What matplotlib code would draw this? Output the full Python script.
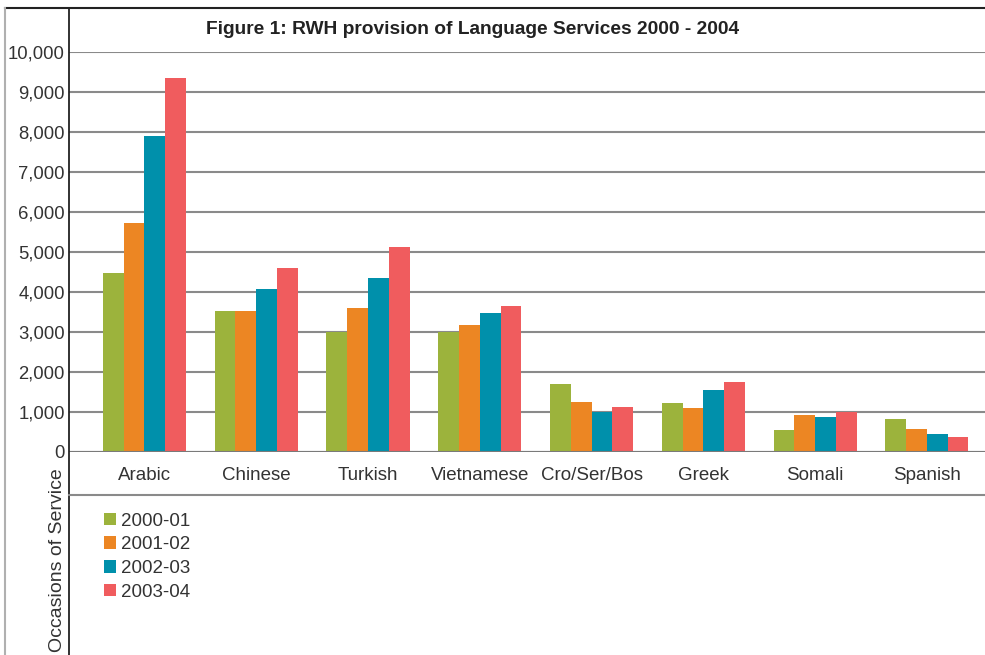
import matplotlib
matplotlib.use("Agg")
import matplotlib.pyplot as plt
from matplotlib.lines import Line2D
from matplotlib.patches import Patch
import numpy as np

categories = ["Arabic", "Chinese", "Turkish", "Vietnamese", "Cro/Ser/Bos", "Greek", "Somali", "Spanish"]
series_names = ["2000-01", "2001-02", "2002-03", "2003-04"]
v2000_01 = [4475, 3525, 3000, 3000, 1700, 1225, 550, 825]
v2001_02 = [5725, 3525, 3600, 3175, 1250, 1100, 925, 575]
v2002_03 = [7900, 4075, 4350, 3475, 1000, 1550, 875, 450]
v2003_04 = [9350, 4600, 5125, 3650, 1125, 1750, 1000, 375]
yticks = [0, 1000, 2000, 3000, 4000, 5000, 6000, 7000, 8000, 9000, 10000]
ytick_labels = ["0", "1,000", "2,000", "3,000", "4,000", "5,000", "6,000", "7,000", "8,000", "9,000", "10,000"]
colors = ["#9CB33C", "#EC8623", "#0090AB", "#F05C5E"]

plt.rcParams['font.family'] = ['Liberation Sans', 'DejaVu Sans']
text_color = "#333333"

W, H = 985, 655
fig = plt.figure(figsize=(W / 100, H / 100), dpi=100)
ax = fig.add_axes([69 / W, (H - 452) / H, (W - 69) / W, 400 / H])

series = [v2000_01, v2001_02, v2002_03, v2003_04]
x = np.arange(len(categories))
bw = 0.186
for i, (vals, c) in enumerate(zip(series, colors)):
    ax.bar(x + (i - 1.5) * bw, vals, width=bw, color=c, zorder=3, label=series_names[i])

ax.set_xlim(-0.675, 7.52)
ax.set_ylim(0, 10000)
ax.set_yticks(yticks)
ax.set_yticklabels(ytick_labels)
ax.set_xticks(x)
ax.set_xticklabels(categories)
ax.tick_params(axis='y', length=0, pad=3, labelsize=13.3, labelcolor=text_color)
ax.tick_params(axis='x', length=0, pad=11, labelsize=13.5, labelcolor=text_color)
ax.yaxis.grid(True, color="#8a8a8a", linewidth=1.5, zorder=0)
ax.set_axisbelow(True)
for s in ax.spines.values():
    s.set_visible(False)
ax.axhline(0, color="#7a7a7a", linewidth=1.5, zorder=4)

# frame lines
fig.add_artist(Line2D([5 / W, 1], [1 - 8 / H, 1 - 8 / H], transform=fig.transFigure, color="#222222", lw=1.5))
fig.add_artist(Line2D([5 / W, 5 / W], [0, 1 - 8 / H], transform=fig.transFigure, color="#b0b0b0", lw=1.5))
fig.add_artist(Line2D([69 / W, 69 / W], [0, 1 - 8 / H], transform=fig.transFigure, color="#222222", lw=1.3))
fig.add_artist(Line2D([69 / W, 1], [1 - 495 / H, 1 - 495 / H], transform=fig.transFigure, color="#8a8a8a", lw=1.5))

fig.text(473 / W, 1 - 30 / H, "Figure 1: RWH provision of Language Services 2000 - 2004",
         ha='center', va='center', fontsize=13.8, fontweight='bold', color="#222222")
fig.text(58 / W, 1 - 560 / H, "Occasions of Service", rotation=90, ha='center', va='center',
         fontsize=14, color=text_color)

handles = [Patch(facecolor=c, edgecolor='none') for c in colors]
leg = fig.legend(handles, series_names, loc='upper left', bbox_to_anchor=(96 / W, 1 - 505 / H),
                 frameon=False, fontsize=13.5, handlelength=0.65, handleheight=0.65,
                 handletextpad=0.3, labelspacing=0.36, borderaxespad=0)
for t in leg.get_texts():
    t.set_color(text_color)

fig.savefig("out.png", dpi=100)
